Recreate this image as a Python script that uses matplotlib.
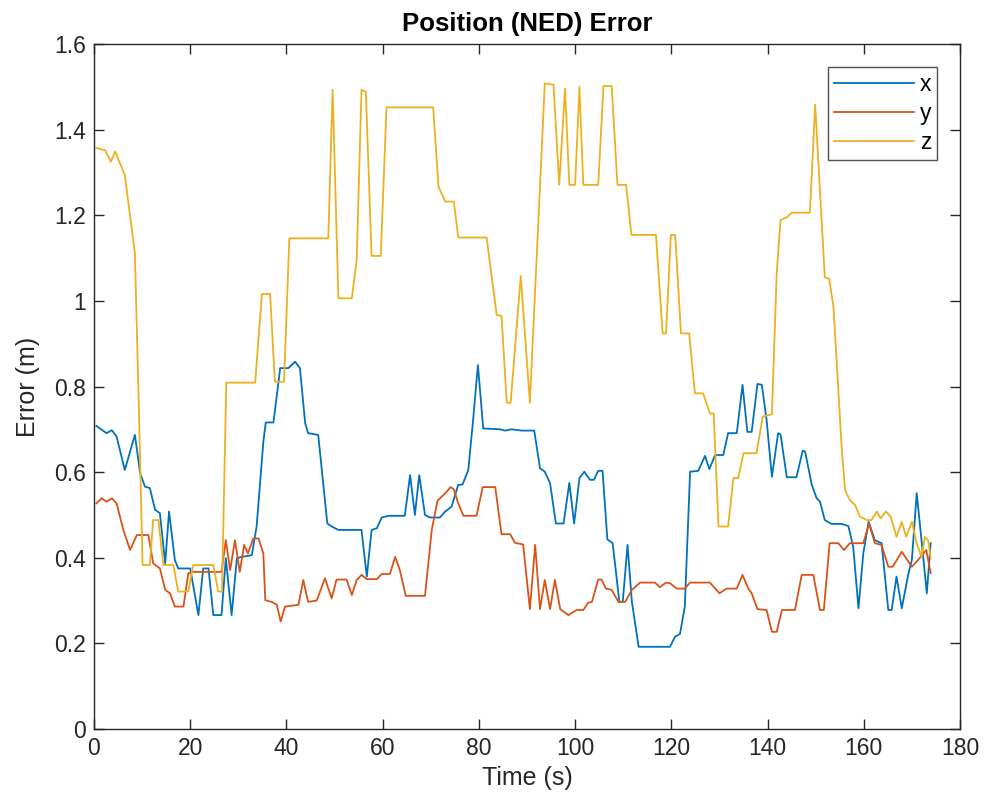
import matplotlib
matplotlib.use("Agg")
import matplotlib.pyplot as plt
from matplotlib.ticker import FuncFormatter

plt.rcParams['font.family'] = ['Liberation Sans', 'DejaVu Sans']

# Time stamps (s) and error values (m) for each axis
t_x = [0.5, 2.6, 3.7, 4.7, 6.4, 8.5, 9.6, 10.6, 11.6, 12.7, 13.7, 14.8, 15.6, 16.8, 17.5, 20.0,
       21.7, 22.7, 23.8, 24.8, 26.5, 27.4, 28.6, 29.7, 30.7, 32.8, 33.8, 35.2, 35.7, 37.3, 38.7,
       40.4, 41.8, 42.8, 43.9, 44.5, 46.6, 48.5, 49.4, 50.8, 55.6, 56.7, 57.7, 58.8, 59.8, 61.2,
       64.6, 65.7, 66.7, 67.6, 68.8, 69.8, 71.9, 73.0, 74.3, 75.7, 76.6, 77.8, 78.8, 79.8, 80.9,
       84.4, 85.4, 86.8, 88.9, 91.5, 92.7, 93.7, 94.8, 96.0, 97.6, 98.8, 99.8, 100.9, 101.9,
       103.1, 103.9, 104.8, 105.7, 106.7, 107.8, 109.2, 109.9, 110.9, 111.8, 113.2, 119.7, 120.8,
       121.8, 122.8, 123.9, 125.6, 127.0, 127.9, 129.1, 130.8, 131.8, 133.6, 134.8, 135.8, 136.7,
       137.9, 138.8, 139.8, 140.9, 142.2, 142.7, 144.0, 146.0, 147.3, 147.8, 149.2, 150.2, 150.9,
       151.9, 153.3, 155.4, 156.8, 157.8, 158.9, 159.9, 161.0, 162.3, 163.7, 165.1, 165.8, 166.8,
       167.9, 169.3, 170.0, 171.0, 172.0, 173.1, 173.9]
err_x = [0.708, 0.691, 0.698, 0.683, 0.605, 0.687, 0.597, 0.566, 0.563, 0.512, 0.504, 0.387, 0.508,
         0.395, 0.375, 0.375, 0.266, 0.375, 0.375, 0.266, 0.266, 0.399, 0.266, 0.399, 0.402, 0.406,
         0.473, 0.671, 0.716, 0.716, 0.843, 0.843, 0.858, 0.843, 0.714, 0.691, 0.687, 0.480, 0.473,
         0.465, 0.465, 0.356, 0.465, 0.469, 0.494, 0.498, 0.498, 0.593, 0.500, 0.593, 0.500, 0.494,
         0.494, 0.508, 0.519, 0.570, 0.571, 0.605, 0.722, 0.850, 0.702, 0.700, 0.697, 0.700, 0.697,
         0.697, 0.609, 0.601, 0.574, 0.480, 0.480, 0.575, 0.480, 0.586, 0.601, 0.582, 0.582, 0.603,
         0.603, 0.443, 0.434, 0.297, 0.297, 0.430, 0.297, 0.192, 0.192, 0.216, 0.222, 0.286, 0.601,
         0.603, 0.638, 0.607, 0.640, 0.640, 0.691, 0.691, 0.804, 0.694, 0.694, 0.806, 0.804, 0.722,
         0.589, 0.691, 0.688, 0.588, 0.588, 0.650, 0.648, 0.570, 0.539, 0.531, 0.488, 0.479, 0.479,
         0.474, 0.426, 0.282, 0.410, 0.484, 0.441, 0.434, 0.278, 0.278, 0.356, 0.282, 0.364, 0.395,
         0.551, 0.441, 0.317, 0.434]

t_y = [0.5, 1.6, 2.6, 3.7, 4.7, 6.1, 7.5, 8.9, 11.3, 12.3, 13.7, 14.8, 15.8, 16.8, 18.6, 19.6, 20.6,
       26.5, 27.4, 28.3, 29.3, 30.3, 31.2, 32.0, 33.1, 34.2, 35.2, 35.6, 36.9, 38.0, 38.8, 39.7,
       42.5, 43.5, 44.5, 46.3, 48.0, 49.4, 50.4, 52.5, 53.6, 54.6, 55.6, 56.7, 58.8, 59.8, 61.5,
       62.6, 63.6, 64.8, 68.8, 70.2, 71.4, 72.3, 73.3, 74.1, 74.8, 75.7, 76.8, 79.5, 80.8, 83.4,
       84.7, 86.5, 87.5, 89.2, 90.6, 91.7, 92.7, 93.7, 94.8, 95.8, 96.9, 98.6, 100.3, 101.7, 102.7,
       103.5, 104.8, 105.5, 106.4, 107.6, 109.0, 110.4, 111.8, 113.5, 116.6, 117.6, 118.9, 119.8,
       121.1, 122.8, 123.9, 128.0, 130.0, 131.5, 133.6, 134.8, 136.0, 136.7, 137.9, 139.8, 140.9,
       141.9, 143.0, 145.7, 147.1, 149.5, 150.9, 151.7, 152.9, 154.7, 155.9, 157.1, 159.9, 161.1,
       162.3, 163.7, 165.1, 166.0, 167.9, 170.0, 171.3, 173.0, 173.9]
err_y = [0.527, 0.539, 0.531, 0.539, 0.527, 0.465, 0.418, 0.453, 0.453, 0.387, 0.375, 0.325, 0.317,
         0.286, 0.286, 0.364, 0.367, 0.367, 0.441, 0.371, 0.441, 0.367, 0.430, 0.410, 0.445, 0.445,
         0.410, 0.301, 0.297, 0.290, 0.251, 0.286, 0.290, 0.348, 0.297, 0.300, 0.352, 0.305, 0.349,
         0.349, 0.313, 0.348, 0.360, 0.350, 0.350, 0.362, 0.362, 0.402, 0.370, 0.311, 0.311, 0.465,
         0.533, 0.543, 0.554, 0.565, 0.560, 0.527, 0.498, 0.498, 0.565, 0.565, 0.455, 0.455, 0.435,
         0.431, 0.280, 0.430, 0.280, 0.348, 0.280, 0.348, 0.280, 0.266, 0.278, 0.278, 0.295, 0.297,
         0.349, 0.349, 0.328, 0.325, 0.297, 0.297, 0.325, 0.342, 0.342, 0.331, 0.342, 0.340, 0.328,
         0.328, 0.342, 0.342, 0.317, 0.328, 0.328, 0.360, 0.328, 0.317, 0.280, 0.278, 0.227, 0.227,
         0.278, 0.278, 0.360, 0.360, 0.278, 0.278, 0.434, 0.434, 0.418, 0.434, 0.434, 0.480, 0.434,
         0.430, 0.379, 0.379, 0.414, 0.379, 0.395, 0.418, 0.364]

t_z = [0.5, 2.3, 3.5, 4.4, 6.4, 8.5, 9.3, 10.1, 11.6, 12.3, 13.4, 14.4, 16.5, 17.5, 19.6, 20.6,
       24.8, 25.8, 26.6, 27.5, 33.5, 34.9, 36.6, 37.6, 39.5, 40.6, 48.7, 49.6, 50.8, 53.6, 54.6,
       55.6, 56.5, 57.7, 59.6, 60.8, 70.5, 71.6, 73.0, 74.8, 75.7, 81.6, 83.7, 84.7, 85.8, 86.6,
       88.7, 90.6, 93.7, 95.5, 96.7, 97.9, 98.8, 100.0, 100.9, 101.7, 104.8, 105.9, 107.6, 108.8,
       110.6, 111.7, 116.8, 118.2, 118.9, 119.9, 120.8, 122.0, 123.7, 124.9, 126.6, 128.0, 128.8,
       129.8, 131.8, 132.9, 133.9, 135.0, 137.7, 139.0, 140.9, 141.9, 142.7, 144.0, 145.0, 148.8,
       149.9, 151.9, 152.8, 153.7, 155.4, 156.1, 157.1, 158.2, 159.2, 160.6, 161.6, 162.7, 163.5,
       164.6, 165.6, 166.8, 167.9, 168.8, 170.0, 171.0, 172.0, 172.7, 173.4, 173.9]
err_z = [1.357, 1.352, 1.325, 1.349, 1.294, 1.112, 0.760, 0.383, 0.383, 0.488, 0.488, 0.383, 0.383,
         0.321, 0.321, 0.383, 0.383, 0.321, 0.321, 0.809, 0.809, 1.016, 1.016, 0.811, 0.811, 1.146,
         1.146, 1.493, 1.006, 1.006, 1.096, 1.493, 1.489, 1.105, 1.105, 1.452, 1.452, 1.267, 1.232,
         1.232, 1.148, 1.148, 0.967, 0.965, 0.762, 0.762, 1.058, 0.762, 1.508, 1.505, 1.271, 1.496,
         1.271, 1.271, 1.500, 1.271, 1.271, 1.502, 1.502, 1.271, 1.271, 1.154, 1.154, 0.924, 0.924,
         1.154, 1.154, 0.924, 0.924, 0.784, 0.784, 0.737, 0.737, 0.473, 0.473, 0.586, 0.586, 0.644,
         0.644, 0.730, 0.735, 1.064, 1.189, 1.195, 1.206, 1.206, 1.458, 1.055, 1.052, 0.986, 0.659,
         0.558, 0.535, 0.523, 0.496, 0.488, 0.488, 0.508, 0.492, 0.508, 0.496, 0.449, 0.484, 0.449,
         0.484, 0.434, 0.402, 0.449, 0.440, 0.399]

series_labels = ['x', 'y', 'z']
series_colors = ['#0072BD', '#D95319', '#EDB120']

x_ticks = [0, 20, 40, 60, 80, 100, 120, 140, 160, 180]
y_ticks = [0, 0.2, 0.4, 0.6, 0.8, 1.0, 1.2, 1.4, 1.6]

axis_color = '#262626'

fig = plt.figure(figsize=(9.84, 8.07), dpi=100)
ax = fig.add_axes([94 / 984, 78 / 807, 866 / 984, 685 / 807])

for t, e, lab, col in zip([t_x, t_y, t_z], [err_x, err_y, err_z], series_labels, series_colors):
    ax.plot(t, e, color=col, lw=1.3, label=lab)

ax.set_xlim(0, 180)
ax.set_ylim(0, 1.6)
ax.set_xticks(x_ticks)
ax.set_yticks(y_ticks)
ax.yaxis.set_major_formatter(FuncFormatter(lambda v, p: f"{v:g}"))

ax.tick_params(direction='in', length=7, width=1, colors=axis_color, labelsize=16.5,
               top=True, right=True, pad=6)
for sp in ax.spines.values():
    sp.set_color(axis_color)
    sp.set_linewidth(1)

ax.set_xlabel('Time (s)', fontsize=18, color=axis_color, labelpad=4)
ax.set_ylabel('Error (m)', fontsize=18, color=axis_color, labelpad=10)
ax.set_title('Position (NED) Error', fontsize=18.5, fontweight='bold', color='black', pad=9)

leg = ax.legend(loc='upper right', fontsize=16.5, frameon=True, fancybox=False,
                edgecolor='#262626', handlelength=3.5, handletextpad=0.25, borderpad=0.25,
                labelspacing=0.28, borderaxespad=1.0)
leg.get_frame().set_linewidth(1)

fig.savefig('out.png', dpi=100, facecolor='white')
